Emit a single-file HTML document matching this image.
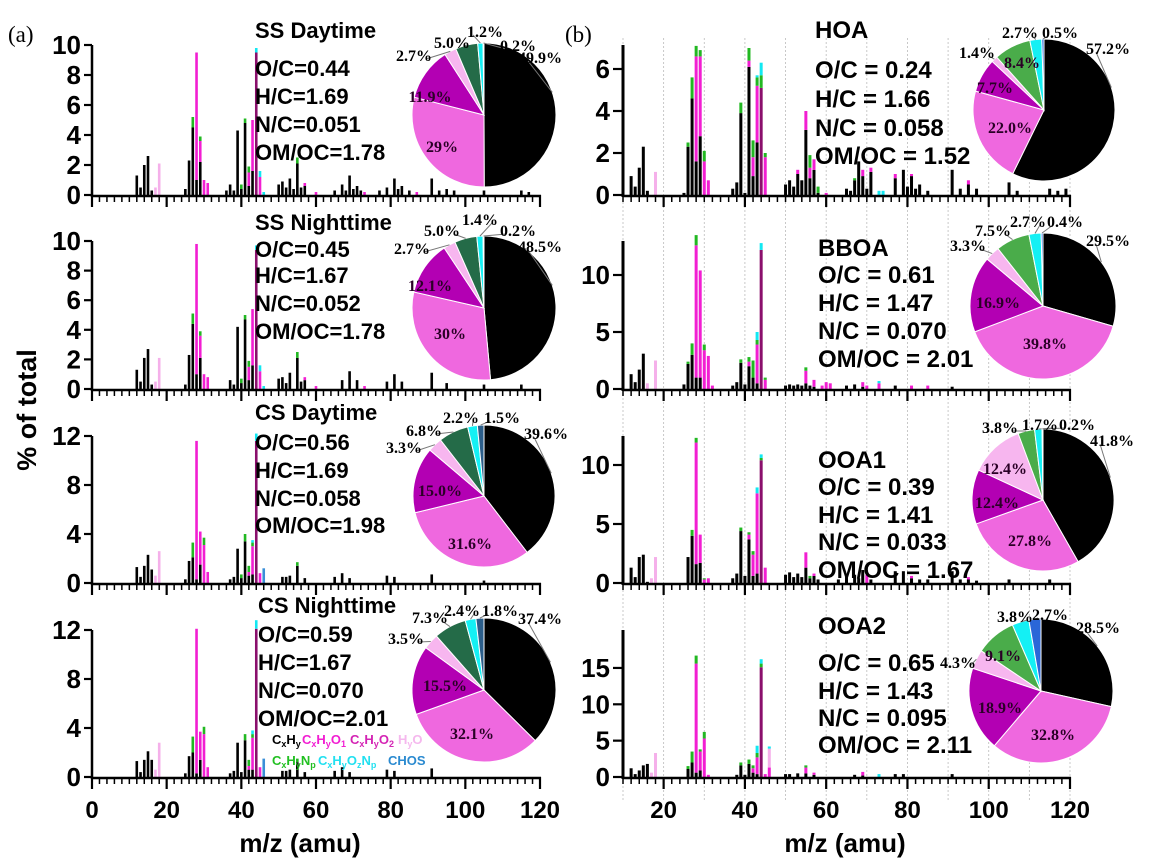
<!DOCTYPE html>
<html><head><meta charset="utf-8"><style>
html,body{margin:0;padding:0;background:#fff}
svg{display:block}
text{font-family:"Liberation Sans",sans-serif}
.ser{font-family:"Liberation Serif",serif;font-weight:bold}
</style></head><body>
<svg id="chart" width="1158" height="867" viewBox="0 0 1158 867" xmlns="http://www.w3.org/2000/svg">
<text x="8" y="42" class="ser" style="font-weight:normal" font-size="23">(a)</text>
<text x="565" y="42" class="ser" style="font-weight:normal" font-size="23">(b)</text>
<text transform="translate(36,410) rotate(-90)" text-anchor="middle" font-size="27" font-weight="bold">% of total</text>
<text x="300" y="852" text-anchor="middle" font-size="26" font-weight="bold">m/z (amu)</text>
<text x="845" y="852" text-anchor="middle" font-size="26" font-weight="bold">m/z (amu)</text>
<g id="grid"></g><g id="bars"></g><g id="axes"></g><g id="notes"></g><g id="legend"></g><g id="pies"></g>
</svg>
<script>
// ===== DATA: bar spectra as [m/z, % of total] pairs =====
const ssDayHc=[[12,1.3],[13,0.5],[14,2.0],[15,2.6],[16,0.3],[25,0.4],[26,2.3],[27,4.5],[28,1.0],[29,2.2],[36,0.3],[37,0.7],[38,0.3],[39,4.3],[40,0.4],[41,4.8],[42,0.6],[43,1.6],[50,0.7],[51,0.9],[52,0.5],[53,1.1],[54,0.4],[55,2.1],[56,0.5],[57,0.6],[65,0.3],[67,0.7],[68,0.3],[69,1.3],[70,0.4],[71,0.6],[72,0.3],[77,0.3],[79,0.5],[81,1.1],[82,0.4],[83,0.6],[85,0.3],[91,1.1],[93,0.3],[95,0.4],[97,0.3],[105,0.3],[115,0.3],[117,0.2]];
const ssDayO1=[[28,8.5],[29,1.4],[30,1.0],[31,0.8],[42,0.9],[43,3.4],[45,1.2],[57,0.2],[60,0.2],[73,0.2],[87,0.2]];
const ssDayO2=[[44,9.5]];
const ssDayW=[[17,0.5],[18,2.1]];
const ssDayN=[[27,0.7],[29,0.3],[40,0.3],[41,0.3],[42,0.4],[55,0.4]];
const ssDayCn=[[44,0.3],[45,0.4],[46,0.2]];
const ssDayS=[];

const ssNightHc=[[12,1.3],[13,0.5],[14,2.1],[15,2.7],[16,0.3],[25,0.3],[26,2.3],[27,4.4],[28,1.0],[29,2.1],[37,0.6],[38,0.3],[39,4.2],[40,0.4],[41,4.7],[42,0.6],[43,1.6],[50,0.7],[51,0.8],[52,0.4],[53,1.1],[55,2.1],[56,0.5],[57,0.6],[67,0.6],[69,1.2],[71,0.6],[79,0.5],[81,1.0],[83,0.5],[91,1.1],[95,0.4],[105,0.3],[115,0.3]];
const ssNightO1=[[28,8.8],[29,1.5],[30,1.0],[31,0.8],[42,0.9],[43,3.8],[45,1.2],[57,0.2],[60,0.2],[73,0.2]];
const ssNightO2=[[44,9.4]];
const ssNightW=[[17,0.5],[18,2.1]];
const ssNightN=[[27,0.7],[29,0.3],[40,0.3],[41,0.3],[42,0.4],[55,0.4]];
const ssNightCn=[[44,0.3],[45,0.4],[46,0.2]];
const ssNightS=[];

const csDayHc=[[12,1.3],[13,0.5],[14,1.4],[15,2.3],[16,1.1],[25,0.3],[26,1.8],[27,2.1],[28,0.3],[29,1.5],[37,0.3],[38,0.5],[39,2.8],[40,0.4],[41,3.4],[42,0.6],[43,0.7],[51,0.5],[52,0.5],[53,0.6],[55,1.4],[57,0.4],[65,0.5],[67,0.8],[69,0.4],[79,0.6],[81,0.5],[91,0.7],[105,0.2]];
const csDayO1=[[28,11.3],[29,2.7],[30,3.1],[31,0.9],[42,0.3],[43,2.3],[45,0.8]];
const csDayO2=[[44,11.6]];
const csDayW=[[17,0.6],[18,2.6]];
const csDayN=[[27,1.2],[30,0.6],[40,0.3],[41,0.6],[42,0.5],[43,0.3],[55,0.3]];
const csDayCn=[[43,0.2],[44,0.6]];
const csDayS=[[46,1.2]];

const csNightHc=[[12,1.3],[13,0.4],[14,1.4],[15,2.1],[16,1.4],[25,0.3],[26,1.7],[27,2.0],[28,0.3],[29,1.4],[37,0.3],[38,0.5],[39,2.8],[40,0.4],[41,3.0],[42,0.6],[43,0.6],[51,0.5],[52,0.5],[53,0.6],[55,1.2],[57,0.4],[65,0.5],[67,0.8],[69,0.4],[79,0.6],[81,0.5],[91,0.7]];
const csNightO1=[[28,11.8],[29,2.3],[30,3.5],[31,0.8],[42,0.3],[43,2.6],[45,0.8]];
const csNightO2=[[44,12.1]];
const csNightW=[[17,0.6],[18,2.8]];
const csNightN=[[27,1.3],[30,0.6],[41,0.5],[42,0.5],[43,0.3],[55,0.3]];
const csNightCn=[[43,0.3],[44,0.7]];
const csNightS=[[46,1.5]];

const hoaHc=[[12,0.9],[13,0.4],[14,1.3],[15,2.3],[16,0.2],[25,0.1],[26,2.3],[27,4.6],[28,1.6],[29,2.8],[37,0.3],[38,0.6],[39,3.9],[40,0.1],[41,6.1],[42,0.9],[43,2.5],[50,0.5],[51,0.7],[52,0.4],[53,1.0],[54,0.7],[55,3.1],[56,0.8],[57,1.2],[58,0.1],[65,0.3],[66,0.2],[67,0.7],[68,1.6],[69,0.9],[70,0.3],[71,1.1],[77,0.8],[79,1.2],[80,0.4],[81,0.9],[82,0.3],[83,0.5],[85,0.2],[91,1.2],[93,0.3],[95,0.5],[97,0.3],[105,0.6],[107,0.2],[115,0.3],[117,0.2],[119,0.3]];
const hoaO1=[[28,5.0],[29,3.8],[30,1.6],[31,0.7],[41,0.3],[42,0.9],[43,2.7],[45,1.8],[53,0.2],[55,0.9],[56,0.5],[57,0.5],[60,0.1],[69,0.3],[71,0.2],[77,0.2],[81,0.1],[95,0.2]];
const hoaO2=[[44,5.1]];
const hoaW=[[18,1.1]];
const hoaN=[[26,0.2],[27,1.0],[28,0.5],[29,0.3],[30,0.5],[39,0.5],[41,0.6],[42,0.8],[43,0.4],[44,0.6],[45,0.2],[56,0.6],[58,0.3],[67,0.1]];
const hoaCn=[[43,0.1],[44,0.6],[73,0.2],[74,0.2]];
const hoaS=[];

const bboaHc=[[12,1.3],[13,0.6],[14,1.7],[15,3.1],[25,0.4],[26,2.2],[27,3.0],[28,1.0],[29,1.0],[37,0.3],[38,0.6],[39,2.3],[40,0.4],[41,2.0],[42,1.0],[43,0.5],[50,0.3],[51,0.4],[52,0.3],[53,0.4],[54,0.3],[55,0.5],[56,0.3],[57,0.2],[65,0.3],[67,0.4],[69,0.2],[77,0.3],[91,0.2]];
const bboaO1=[[28,11.6],[29,9.4],[30,3.4],[31,2.9],[32,0.3],[41,0.4],[43,3.4],[45,0.8],[55,1.1],[57,0.6],[59,0.3],[60,0.6],[61,0.5],[69,0.4],[70,0.3],[73,0.5],[81,0.3],[85,0.3]];
const bboaO2=[[44,12.2]];
const bboaW=[[16,0.5],[18,2.5]];
const bboaN=[[26,0.2],[27,1.0],[28,0.9],[30,0.5],[39,0.3],[41,0.4],[42,1.5],[43,0.4],[45,0.2],[55,0.3]];
const bboaCn=[[43,0.7],[44,0.6],[73,0.2]];
const bboaS=[];

const ooa1Hc=[[12,1.3],[13,0.5],[14,2.2],[15,2.4],[16,0.1],[26,2.2],[27,4.0],[28,1.6],[29,1.7],[37,0.4],[38,0.8],[39,4.4],[40,0.6],[41,3.7],[42,0.6],[43,0.8],[50,0.7],[51,0.9],[52,0.5],[53,0.8],[54,0.5],[55,1.3],[56,0.4],[57,0.6],[58,0.3],[63,0.3],[65,0.7],[67,0.7],[68,0.4],[69,1.1],[71,0.3],[77,1.0],[79,1.0],[81,0.4],[83,0.3],[85,0.3],[91,1.0],[93,0.3],[95,0.3],[97,0.2],[105,0.3],[115,0.3]];
const ooa1O1=[[28,10.3],[29,2.4],[30,0.3],[31,0.4],[41,0.4],[42,1.8],[43,6.8],[45,1.3],[55,1.3],[57,0.2],[70,0.7],[81,0.2],[95,0.2]];
const ooa1O2=[[44,10.4]];
const ooa1W=[[17,0.4],[18,2.2]];
const ooa1N=[[27,0.5],[28,0.4],[30,0.1],[39,0.3],[41,0.2],[42,0.3],[44,0.2],[56,0.2]];
const ooa1Cn=[[43,0.5],[44,0.3]];
const ooa1S=[];

const ooa2Hc=[[12,1.2],[13,0.4],[14,0.9],[15,1.6],[16,1.8],[26,1.1],[27,2.0],[28,0.6],[29,0.9],[38,0.3],[39,1.6],[40,0.3],[41,1.8],[42,0.6],[43,0.4],[50,0.4],[51,0.4],[53,0.5],[55,0.5],[57,0.3],[67,0.3],[69,0.2],[77,0.4],[79,0.4],[91,0.4]];
const ooa2O1=[[28,15.0],[29,2.6],[30,5.3],[31,0.3],[42,0.6],[43,2.3],[45,0.4],[46,1.3],[55,0.8],[57,0.3],[69,0.5]];
const ooa2O2=[[44,15.1]];
const ooa2W=[[17,0.6],[18,3.3],[46,2.6]];
const ooa2N=[[26,0.4],[27,1.5],[28,1.1],[29,0.3],[30,0.9],[39,0.4],[41,0.6],[42,0.4],[43,0.6],[44,0.5],[55,0.3]];
const ooa2Cn=[[43,1.0],[44,0.6],[46,0.3],[73,0.4]];
const ooa2S=[];

// ===== DATA: pie fractions (CxHy, CxHyO1, CxHyO2, HyO, CxHyNp, CxHyOzNp, CHOS) =====
const pieSsDay=[49.9,29,11.9,2.7,5.0,1.2,0.2];
const pieSsNight=[48.5,30,12.1,2.7,5.0,1.4,0.2];
const pieCsDay=[39.6,31.6,15.0,3.3,6.8,2.2,1.5];
const pieCsNight=[37.4,32.1,15.5,3.5,7.3,2.4,1.8];
const pieHoa=[57.2,22.0,7.7,1.4,8.4,2.7,0.5];
const pieBboa=[29.5,39.8,16.9,3.3,7.5,2.7,0.4];
const pieOoa1=[41.8,27.8,12.4,12.4,3.8,1.7,0.2];
const pieOoa2=[28.5,32.8,18.9,4.3,9.1,3.8,2.7];
const pieLabels=[["49.9%","29%","11.9%","2.7%","5.0%","1.2%","0.2%"],["48.5%","30%","12.1%","2.7%","5.0%","1.4%","0.2%"],["39.6%","31.6%","15.0%","3.3%","6.8%","2.2%","1.5%"],["37.4%","32.1%","15.5%","3.5%","7.3%","2.4%","1.8%"],["57.2%","22.0%","7.7%","1.4%","8.4%","2.7%","0.5%"],["29.5%","39.8%","16.9%","3.3%","7.5%","2.7%","0.4%"],["41.8%","27.8%","12.4%","12.4%","3.8%","1.7%","0.2%"],["28.5%","32.8%","18.9%","4.3%","9.1%","3.8%","2.7%"]];
const notesText=[["SS Daytime","O/C=0.44","H/C=1.69","N/C=0.051","OM/OC=1.78"],["SS Nighttime","O/C=0.45","H/C=1.67","N/C=0.052","OM/OC=1.78"],["CS Daytime","O/C=0.56","H/C=1.69","N/C=0.058","OM/OC=1.98"],["CS Nighttime","O/C=0.59","H/C=1.67","N/C=0.070","OM/OC=2.01"],["HOA","O/C = 0.24","H/C = 1.66","N/C = 0.058","OM/OC = 1.52"],["BBOA","O/C = 0.61","H/C = 1.47","N/C = 0.070","OM/OC = 2.01"],["OOA1","O/C = 0.39","H/C = 1.41","N/C = 0.033","OM/OC = 1.67"],["OOA2","O/C = 0.65","H/C = 1.43","N/C = 0.095","OM/OC = 2.11"]];
const leftXTicks=[0,20,40,60,80,100,120];
const rightXTicks=[20,40,60,80,100,120];

// ===== LAYOUT =====
const NS="http://www.w3.org/2000/svg";
function mk(tag,parent){const e=document.createElementNS(NS,tag);parent.appendChild(e);return e;}
const barCols=["#000000","#f21ed2","#8a0f6c","#f5b0ea","#22b822","#12e8f2","#3a8fd8"];
const pieColsL=["#000000","#ef68df","#b300b3","#f7b6ef","#246b48","#14f0f4","#2c5e8a"];
const pieColsR=["#000000","#ef68df","#b300b3","#f7b6ef","#4aac4a","#14f0f4","#2a66d8"];
// label centres: outside labels (lab) with leader, inside labels (inl)
const panels=[
 {id:"ss-daytime",side:"L",base:195,top:45,ppu:15,ticks:[0,2,4,6,8,10],ser:[ssDayHc,ssDayO1,ssDayO2,ssDayW,ssDayN,ssDayCn,ssDayS],pie:pieSsDay,cx:484,cy:115,r:72,nx:255,ny:[38,76,104,132,160],
  lab:[[540,57],null,null,[414,55],[452,42],[485,31],[518,45]],inl:[null,[442,146],[430,96],null,null,null,null]},
 {id:"ss-nighttime",side:"L",base:389,top:241,ppu:14.8,ticks:[0,2,4,6,8,10],ser:[ssNightHc,ssNightO1,ssNightO2,ssNightW,ssNightN,ssNightCn,ssNightS],pie:pieSsNight,cx:484,cy:308,r:72,nx:255,ny:[230,257,283,311,339],
  lab:[[540,246],null,null,[412,248],[442,230],[480,219],[518,230]],inl:[null,[450,333],[430,285],null,null,null,null]},
 {id:"cs-daytime",side:"L",base:583,top:436,ppu:12.25,ticks:[0,4,8,12],ser:[csDayHc,csDayO1,csDayO2,csDayW,csDayN,csDayCn,csDayS],pie:pieCsDay,cx:484,cy:496,r:71,nx:255,ny:[420,450,478,506,533],
  lab:[[546,433],null,null,[404,447],[424,430],[461,417],[502,417]],inl:[null,[470,543],[440,490],null,null,null,null]},
 {id:"cs-nighttime",side:"L",base:777,top:630,ppu:12.25,ticks:[0,4,8,12],ser:[csNightHc,csNightO1,csNightO2,csNightW,csNightN,csNightCn,csNightS],pie:pieCsNight,cx:484,cy:690,r:72,nx:258,ny:[613,642,670,698,726],
  lab:[[540,618],null,null,[406,638],[430,617],[462,610],[500,610]],inl:[null,[472,733],[445,685],null,null,null,null]},
 {id:"hoa",side:"R",base:195,top:45,ppu:21,ticks:[0,2,4,6],ser:[hoaHc,hoaO1,hoaO2,hoaW,hoaN,hoaCn,hoaS],pie:pieHoa,cx:1044,cy:110,r:71,nx:815,ny:[38,78,107,136,164],
  lab:[[1108,48],null,null,[977,52],null,[1020,32],[1060,32]],inl:[null,[1010,127],[995,87],null,[1022,62],null,null]},
 {id:"bboa",side:"R",base:389,top:241,ppu:11.4,ticks:[0,5,10],ser:[bboaHc,bboaO1,bboaO2,bboaW,bboaN,bboaCn,bboaS],pie:pieBboa,cx:1043,cy:306,r:73,nx:818,ny:[256,283,311,339,367],
  lab:[[1108,240],null,null,[968,245],[993,230],[1028,221],[1065,221]],inl:[null,[1045,343],[998,302],null,null,null,null]},
 {id:"ooa1",side:"R",base:583,top:436,ppu:11.8,ticks:[0,5,10],ser:[ooa1Hc,ooa1O1,ooa1O2,ooa1W,ooa1N,ooa1Cn,ooa1S],pie:pieOoa1,cx:1043,cy:500,r:71,nx:818,ny:[468,495,523,550,578],
  lab:[[1112,440],null,null,null,[1000,427],[1040,424],[1077,424]],inl:[null,[1030,540],[997,502],[1005,468],null,null,null]},
 {id:"ooa2",side:"R",base:777,top:630,ppu:7.27,ticks:[0,5,10,15],ser:[ooa2Hc,ooa2O1,ooa2O2,ooa2W,ooa2N,ooa2Cn,ooa2S],pie:pieOoa2,cx:1041,cy:691,r:72,nx:818,ny:[634,671,699,726,753],
  lab:[[1098,627],null,null,[958,662],null,[1015,616],[1050,614]],inl:[null,[1053,734],[1000,707],null,[1003,655],null,null]}
];
const sideCfg={L:{x0:92,x1:540,m0:0,m1:120,bw:2.6,tickLX:84},R:{x0:623,x1:1070,m0:10,m1:120,bw:3,tickLX:613}};
function xScale(side,mz){const c=sideCfg[side];return c.x0+(mz-c.m0)*(c.x1-c.x0)/(c.m1-c.m0);}

const grid=document.getElementById("grid");
for(let m=10;m<=120;m+=10){
 const l=mk("line",grid);
 
 
 const x=xScale("R",m);
 l.setAttribute("x1",x);l.setAttribute("x2",x);l.setAttribute("y1",38);l.setAttribute("y2",800);
 l.setAttribute("stroke","#bbb");l.setAttribute("stroke-width","0.8");l.setAttribute("stroke-dasharray","2,2");
}

const barsG=document.getElementById("bars"),axesG=document.getElementById("axes"),notesG=document.getElementById("notes"),piesG=document.getElementById("pies");
const serNames=["cxhy","cxhyo1","cxhyo2","hyo","cxhynp","cxhyoznp","chos"];
panels.forEach((p,pi)=>{
 const c=sideCfg[p.side];
 const g=mk("g",barsG);
 
 
 const stack={};
 p.ser.forEach((arr,si)=>{
  arr.forEach(([mz,v])=>{
   const b=stack[mz]||0;
   const r=mk("rect",g);
   
   
   r.setAttribute("x",xScale(p.side,mz)-c.bw/2);
   r.setAttribute("y",p.base-(b+v)*p.ppu);
   r.setAttribute("width",c.bw);
   r.setAttribute("height",v*p.ppu);
   r.setAttribute("fill",barCols[si]);
   stack[mz]=b+v;
  });
 });
 const ag=mk("g",axesG);
 
 
 const xa=mk("line",ag);
 
 
 xa.setAttribute("x1",c.x0);xa.setAttribute("x2",c.x1+1);xa.setAttribute("y1",p.base+1);xa.setAttribute("y2",p.base+1);
 xa.setAttribute("stroke","#000");xa.setAttribute("stroke-width","2.5");
 for(let m=c.m0;m<=c.m1;m+=2){
  const t=mk("line",ag);
  
  
  const x=xScale(p.side,m);const major=(m%20===0)||(p.side==="R"&&m===c.m1);
  t.setAttribute("x1",x);t.setAttribute("x2",x);t.setAttribute("y1",p.base);t.setAttribute("y2",p.base+(major?12:7));
  t.setAttribute("stroke","#000");t.setAttribute("stroke-width",major?"2.2":"1.5");
 }
 const ya=mk("line",ag);
 
 
 ya.setAttribute("x1",c.x0);ya.setAttribute("x2",c.x0);ya.setAttribute("y1",p.top);ya.setAttribute("y2",p.base+2);
 ya.setAttribute("stroke","#000");ya.setAttribute("stroke-width",p.side==="R"?"3":"2.5");
 p.ticks.forEach(v=>{
  const y=p.base-v*p.ppu;
  const t=mk("line",ag);
  
  
  t.setAttribute("x1",c.tickLX);t.setAttribute("x2",c.x0);t.setAttribute("y1",y);t.setAttribute("y2",y);
  t.setAttribute("stroke","#000");t.setAttribute("stroke-width","2.2");
  const tx=mk("text",ag);
  
  
  tx.setAttribute("x",c.tickLX-3);tx.setAttribute("y",y+9);tx.setAttribute("text-anchor","end");
  tx.setAttribute("font-size","26");tx.setAttribute("font-weight","bold");
  tx.textContent=v;
 });
 const ng=mk("g",notesG);
 
 
 notesText[pi].forEach((s,i)=>{
  const t=mk("text",ng);
  
  
  t.setAttribute("x",p.nx);t.setAttribute("y",p.ny[i]);
  t.setAttribute("font-size",p.side==="R"?"24":"22");t.setAttribute("font-weight","bold");
  t.textContent=s;
 });
 const pg=mk("g",piesG);
 
 
 const cols=p.side==="R"?pieColsR:pieColsL;
 const tot=p.pie.reduce((a,b)=>a+b,0);
 let a0=0;
 const texts=[];
 p.pie.forEach((v,si)=>{
  const a1=a0+v/tot*2*Math.PI;
  const x0=p.cx+p.r*Math.sin(a0),y0=p.cy-p.r*Math.cos(a0),x1=p.cx+p.r*Math.sin(a1),y1=p.cy-p.r*Math.cos(a1);
  const path=mk("path",pg);
  
  
  path.setAttribute("d",`M${p.cx},${p.cy} L${x0},${y0} A${p.r},${p.r} 0 ${a1-a0>Math.PI?1:0} 1 ${x1},${y1} Z`);
  path.setAttribute("fill",cols[si]);path.setAttribute("stroke","#fff");path.setAttribute("stroke-width","1");
  let am=(a0+a1)/2;
  if(si===0) am=Math.min(am,a0+1.25);
  if(p.lab[si]){
   const [lx,ly]=p.lab[si];
   const ln=mk("line",pg);
   
   
   ln.setAttribute("x1",p.cx+p.r*Math.sin(am));ln.setAttribute("y1",p.cy-p.r*Math.cos(am));
   ln.setAttribute("x2",lx+(lx>p.cx?-12:12));ln.setAttribute("y2",ly+4);ln.setAttribute("stroke","#777");ln.setAttribute("stroke-width","1");
   texts.push([lx,ly,pieLabels[pi][si],si,"#000"]);
  }
  if(p.inl[si]){
   const [lx,ly]=p.inl[si];
   texts.push([lx,ly,pieLabels[pi][si],si,"#2a0026"]);
  }
  a0=a1;
 });
 texts.forEach(([lx,ly,s,si,col])=>{
  const t=mk("text",pg);
  
  
  t.setAttribute("x",lx);t.setAttribute("y",ly+6);t.setAttribute("text-anchor","middle");
  t.setAttribute("class","ser");t.setAttribute("font-size","16");t.setAttribute("fill",col);
  t.textContent=s;
 });
});
[["L",leftXTicks],["R",rightXTicks]].forEach(([s,arr])=>{
 arr.forEach(m=>{
  const t=mk("text",axesG);
  
  
  t.setAttribute("x",xScale(s,m));t.setAttribute("y",818);t.setAttribute("text-anchor","middle");
  t.setAttribute("font-size","24");t.setAttribute("font-weight","bold");
  t.textContent=m;
 });
});
const lg=document.getElementById("legend");


lg.innerHTML=
 '<text x="272" y="744" font-size="13" font-weight="bold">C<tspan font-size="9" dy="3">x</tspan><tspan dy="-3">H</tspan><tspan font-size="9" dy="3">y</tspan></text>'+
 '<text x="302" y="744" font-size="13" font-weight="bold" fill="#f21ed2">C<tspan font-size="9" dy="3">x</tspan><tspan dy="-3">H</tspan><tspan font-size="9" dy="3">y</tspan><tspan dy="-3">O</tspan><tspan font-size="9" dy="3">1</tspan></text>'+
 '<text x="350" y="744" font-size="13" font-weight="bold" fill="#d424b4">C<tspan font-size="9" dy="3">x</tspan><tspan dy="-3">H</tspan><tspan font-size="9" dy="3">y</tspan><tspan dy="-3">O</tspan><tspan font-size="9" dy="3">2</tspan></text>'+
 '<text x="398" y="744" font-size="13" font-weight="bold" fill="#f5b8ee">H<tspan font-size="9" dy="3">y</tspan><tspan dy="-3">O</tspan></text>'+
 '<text x="272" y="765" font-size="13" font-weight="bold" fill="#22c022">C<tspan font-size="9" dy="3">x</tspan><tspan dy="-3">H</tspan><tspan font-size="9" dy="3">y</tspan><tspan dy="-3">N</tspan><tspan font-size="9" dy="3">p</tspan></text>'+
 '<text x="318" y="765" font-size="13" font-weight="bold" fill="#22e0f0">C<tspan font-size="9" dy="3">x</tspan><tspan dy="-3">H</tspan><tspan font-size="9" dy="3">y</tspan><tspan dy="-3">O</tspan><tspan font-size="9" dy="3">z</tspan><tspan dy="-3">N</tspan><tspan font-size="9" dy="3">p</tspan></text>'+
 '<text x="388" y="765" font-size="13" font-weight="bold" fill="#2a8ad0">CHOS</text>';
</script>
</body></html>
